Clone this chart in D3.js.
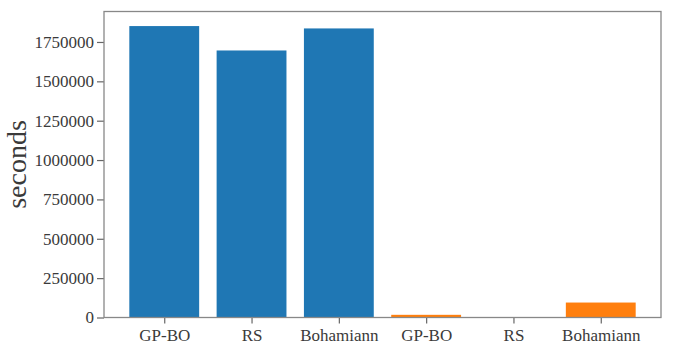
<!DOCTYPE html>
<html>
<head>
<meta charset="utf-8">
<script src="https://d3js.org/d3.v7.min.js"></script>
<style>
  body { margin: 0; background: #fff; }
  svg text { font-family: "Liberation Serif", serif; fill: #3a3a3a; }
</style>
</head>
<body>
<div id="chart"></div>
<script>
// values
const categories = ["GP-BO", "RS", "Bohamiann", "GP-BO", "RS", "Bohamiann"];
const values = [1851000, 1696000, 1836000, 17000, 500, 95000];
const groups = ["blue", "blue", "blue", "orange", "orange", "orange"];
const yTicks = [0, 250000, 500000, 750000, 1000000, 1250000, 1500000, 1750000];

const colors = { blue: "#1f77b4", orange: "#ff7f0e" };

const W = 674, H = 349;
const margin = { top: 11.5, right: 13, bottom: 31.5, left: 104 };
const iw = W - margin.left - margin.right;
const ih = H - margin.top - margin.bottom;

const svg = d3.select("#chart").append("svg")
    .attr("width", W)
    .attr("height", H);

const g = svg.append("g")
    .attr("transform", `translate(${margin.left},${margin.top})`);

// matplotlib-like margins: bars at 0..5, width .8, 5% padding
const x = d3.scaleLinear().domain([-0.69, 5.69]).range([0, iw]);
const y = d3.scaleLinear().domain([0, d3.max(values) * 1.05]).range([ih, 0]);
const bw = x(0.8) - x(0);

g.selectAll("rect.bar")
    .data(values)
    .enter()
    .append("rect")
    .attr("class", "bar")
    .attr("x", (d, i) => x(i) - bw / 2)
    .attr("y", d => y(d))
    .attr("width", bw)
    .attr("height", d => ih - y(d))
    .attr("fill", (d, i) => colors[groups[i]]);

// axes
const xAxis = d3.axisBottom(x)
    .tickValues(d3.range(categories.length))
    .tickFormat(i => categories[i])
    .tickSize(6)
    .tickPadding(5);

const yAxis = d3.axisLeft(y)
    .tickValues(yTicks)
    .tickFormat(d => d)
    .tickSize(7)
    .tickPadding(3);

const gx = g.append("g")
    .attr("transform", `translate(0,${ih})`)
    .call(xAxis);
const gy = g.append("g").call(yAxis);

[gx, gy].forEach(a => {
    a.attr("font-family", "Liberation Serif, serif").attr("font-size", 17);
    a.select(".domain").remove();
    a.selectAll(".tick line").attr("stroke", "#666").attr("stroke-width", 1.2);
    a.selectAll(".tick text").attr("fill", "#3a3a3a");
});

// frame
g.append("rect")
    .attr("x", 0).attr("y", 0)
    .attr("width", iw).attr("height", ih)
    .attr("fill", "none")
    .attr("stroke", "#888")
    .attr("stroke-width", 1.3);

// y label
svg.append("text")
    .attr("transform", `translate(26,${margin.top + ih / 2}) rotate(-90)`)
    .attr("text-anchor", "middle")
    .attr("font-size", 28)
    .text("seconds");
</script>
</body>
</html>
